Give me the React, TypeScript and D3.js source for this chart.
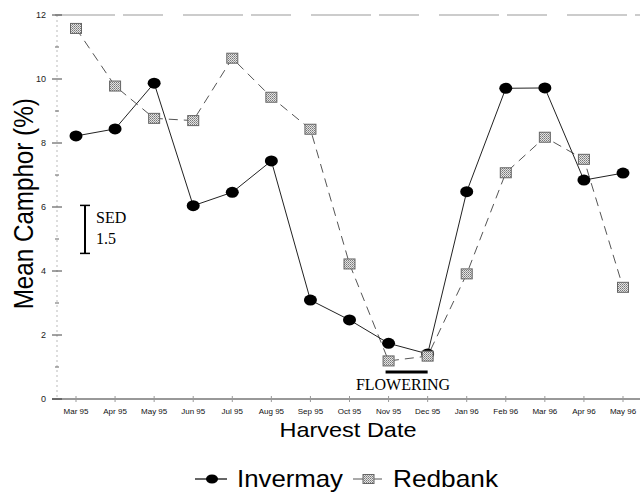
import React from "react";
import * as d3 from "d3";

const months = ["Mar 95","Apr 95","May 95","Jun 95","Jul 95","Aug 95","Sep 95","Oct 95","Nov 95","Dec 95","Jan 96","Feb 96","Mar 96","Apr 96","May 96"];
const invermay = [8.22,8.44,9.87,6.04,6.46,7.44,3.09,2.47,1.74,1.41,6.48,9.71,9.72,6.84,7.06];
const redbank = [11.58,9.78,8.77,8.70,10.65,9.43,8.43,4.22,1.19,1.34,3.91,7.07,8.18,7.49,3.49];
const majorTicks = [0,2,4,6,8,10,12];
const minorTicks = [1,3,5,7,9,11];

export default function App() {
  const W = 640, H = 493;
  const x = d3.scalePoint<string>().domain(months).range([76, 623]);
  const y = d3.scaleLinear().domain([0, 12]).range([399, 15]);
  const idx = months.map((_, i) => i);
  const lineI = d3.line<number>().x(i => x(months[i])!).y(i => y(invermay[i]));
  const lineR = d3.line<number>().x(i => x(months[i])!).y(i => y(redbank[i]));
  const sans = "'Liberation Sans', Arial, sans-serif";
  const serif = "'Liberation Serif', 'Times New Roman', serif";
  const sedTop = 6.05, sedBot = sedTop - 1.5;
  const sedX = 85;
  return (
    <svg width={W} height={H} style={{ position: "absolute", left: 0, top: 0, background: "#fff" }}>
      <defs>
        <pattern id="chk" width="2" height="2" patternUnits="userSpaceOnUse">
          <rect width="2" height="2" fill="#e4e4e4" />
          <rect width="1" height="1" fill="#777" />
          <rect x="1" y="1" width="1" height="1" fill="#999" />
        </pattern>
      </defs>
      {/* top frame line */}
      <line x1={55} x2={640} y1={y(12)} y2={y(12)} stroke="#999" strokeWidth={1} strokeDasharray="60 8 40 20" />
      {/* y axis */}
      <line x1={57} x2={57} y1={y(12)} y2={y(0)} stroke="#bbb" strokeWidth={1} strokeDasharray="2 3" />
      {majorTicks.map(t => (
        <g key={"M" + t}>
          <line x1={52} x2={62} y1={y(t)} y2={y(t)} stroke="#444" strokeWidth={1} />
          <text x={46} y={y(t) + 3} fontSize={9} fontFamily={sans} textAnchor="end" fill="#222">{t}</text>
        </g>
      ))}
      {minorTicks.map(t => (
        <line key={"m" + t} x1={55} x2={59} y1={y(t)} y2={y(t)} stroke="#666" strokeWidth={1} />
      ))}
      {/* x axis */}
      <line x1={52} x2={640} y1={y(0)} y2={y(0)} stroke="#333" strokeWidth={1} />
      {months.map(m => (
        <g key={m}>
          <line x1={x(m)!} x2={x(m)!} y1={y(0) - 3} y2={y(0) + 3} stroke="#999" strokeWidth={1} />
          <text x={x(m)!} y={414} fontSize={8} fontFamily={sans} textAnchor="middle" fill="#111">{m}</text>
        </g>
      ))}
      {/* axis titles */}
      <text transform={`translate(33,${y(6.1)}) rotate(-90)`} fontSize={27} fontFamily={sans} textAnchor="middle" textLength={211} lengthAdjust="spacingAndGlyphs" fill="#000">Mean Camphor (%)</text>
      <text x={348} y={437} fontSize={21} fontFamily={sans} textAnchor="middle" textLength={137} lengthAdjust="spacingAndGlyphs" fill="#000">Harvest Date</text>
      {/* SED bar */}
      <line x1={sedX} x2={sedX} y1={y(sedTop)} y2={y(sedBot)} stroke="#000" strokeWidth={2} />
      <line x1={sedX - 5} x2={sedX + 5} y1={y(sedTop)} y2={y(sedTop)} stroke="#000" strokeWidth={1.5} />
      <line x1={sedX - 5} x2={sedX + 5} y1={y(sedBot)} y2={y(sedBot)} stroke="#000" strokeWidth={1.5} />
      <text x={96} y={223} fontSize={16} fontFamily={serif} fill="#000">SED</text>
      <text x={96} y={244} fontSize={16} fontFamily={serif} fill="#000">1.5</text>
      {/* flowering */}
      <line x1={x("Nov 95")! - 3} x2={x("Dec 95")!} y1={372} y2={372} stroke="#000" strokeWidth={3} />
      <text x={403} y={390} fontSize={16} fontFamily={serif} textAnchor="middle" fill="#000">FLOWERING</text>
      {/* lines */}
      <path d={lineR(idx)!} fill="none" stroke="#555" strokeWidth={1} strokeDasharray="9 6" />
      <path d={lineI(idx)!} fill="none" stroke="#222" strokeWidth={1} />
      {idx.map(i => (
        <ellipse key={"c" + i} cx={x(months[i])!} cy={y(invermay[i])} rx={6.5} ry={5.5} fill="#000" />
      ))}
      {idx.map(i => (
        <rect key={"s" + i} x={x(months[i])! - 5.5} y={y(redbank[i]) - 5} width={11} height={10} fill="url(#chk)" stroke="#666" strokeWidth={1} />
      ))}
      {/* legend */}
      <line x1={195} x2={227} y1={479} y2={479} stroke="#000" strokeWidth={1.2} />
      <ellipse cx={212} cy={479} rx={6} ry={4.5} fill="#000" />
      <text x={237} y={487} fontSize={24} fontFamily={sans} textLength={106} lengthAdjust="spacingAndGlyphs" fill="#000">Invermay</text>
      <line x1={353} x2={382} y1={479} y2={479} stroke="#555" strokeWidth={1} />
      <rect x={363} y={474.5} width={11} height={9} fill="url(#chk)" stroke="#666" strokeWidth={1} />
      <text x={393} y={487} fontSize={24} fontFamily={sans} textLength={105} lengthAdjust="spacingAndGlyphs" fill="#000">Redbank</text>
    </svg>
  );
}
